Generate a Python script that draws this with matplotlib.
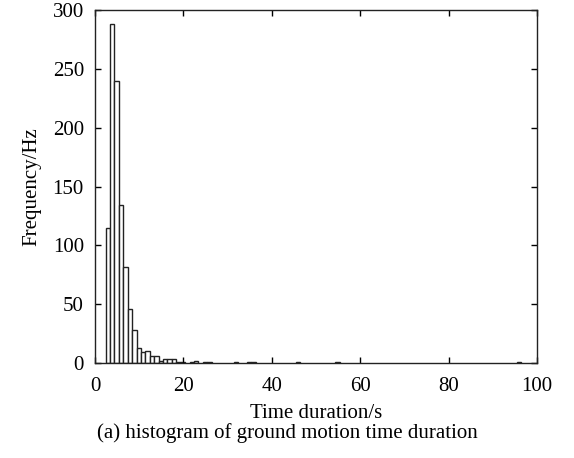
import matplotlib.pyplot as plt

plt.rcParams['font.family'] = ['Liberation Serif', 'DejaVu Serif']

# histogram bins (left edge, width 1 s) and counts
bin_left = [2.4, 3.4, 4.4, 5.4, 6.4, 7.4, 8.4, 9.4, 10.4, 11.4, 12.4, 13.4,
            14.4, 15.4, 16.4, 17.4, 18.4, 19.4, 21.4, 22.4, 24.4, 25.4,
            31.4, 34.4, 35.4, 45.4, 54.4, 95.4]
counts = [115, 288, 240, 134, 82, 46, 28, 13, 9, 10, 6, 6,
          2, 3, 3, 3, 1, 1, 1, 2, 1, 1,
          1, 1, 1, 1, 1, 1]
bin_width = 1.0

x_ticks = [0, 20, 40, 60, 80, 100]
y_ticks = [0, 50, 100, 150, 200, 250, 300]

fig = plt.figure(figsize=(5.74, 4.58), dpi=100)
ax = fig.add_axes([0.1655, 0.2074, 0.77, 0.7706])

ax.bar(bin_left, counts, width=bin_width, align='edge',
       facecolor='white', edgecolor='#222222', linewidth=1.0)

ax.set_xlim(0, 100)
ax.set_ylim(0, 300)
ax.set_xticks(x_ticks)
ax.set_yticks(y_ticks)
ax.tick_params(direction='in', top=True, right=True, length=4,
               width=1.0, labelsize=15)
ax.tick_params(axis='x', pad=10)
ax.tick_params(axis='y', pad=8)
for s in ax.spines.values():
    s.set_linewidth(1.0)
    s.set_color('#222222')

ax.set_xlabel('Time duration/s', fontsize=15, labelpad=6)
ax.set_ylabel('Frequency/Hz', fontsize=15, labelpad=8)
fig.text(0.5, 0.055, '(a) histogram of ground motion time duration',
         ha='center', va='center', fontsize=15)

fig.savefig('out.png', dpi=100)
